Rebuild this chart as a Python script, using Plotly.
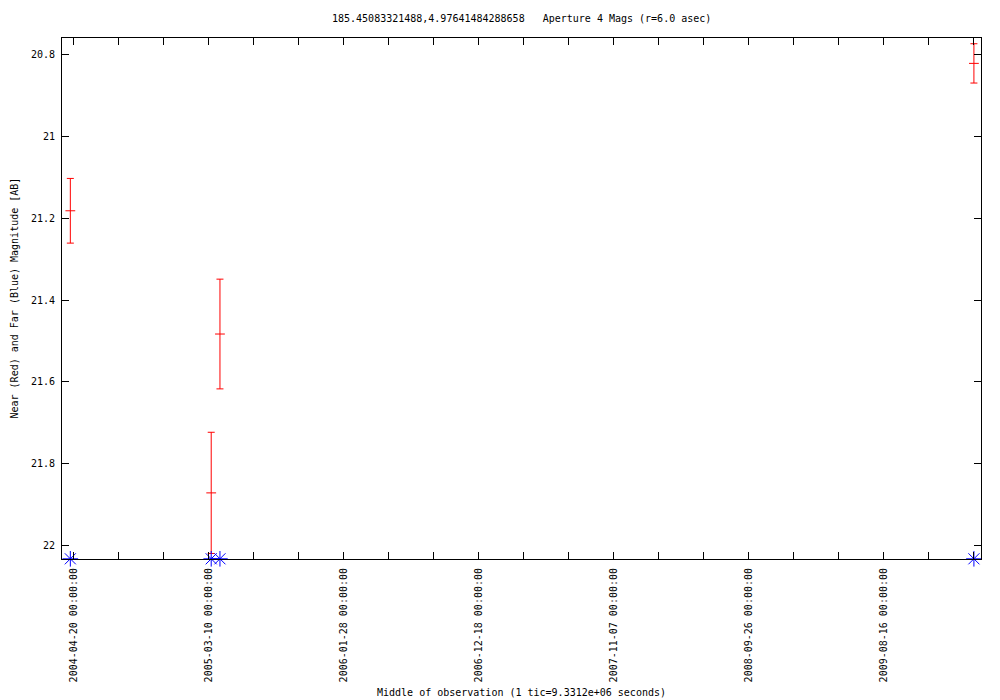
import plotly.graph_objects as go
import pandas as pd

# ---- data ----
near_dates = ["2004-04-13", "2005-04-07", "2005-03-17", "2010-03-21"]
near_mag = [21.182, 21.483, 21.871, 20.822]
near_err = [0.079, 0.134, 0.148, 0.048]

far_dates = ["2004-04-13", "2005-03-17", "2005-04-07", "2010-03-21"]
far_mag = [22.032, 22.032, 22.032, 22.032]

tick_labels = ["2004-04-20 00:00:00", "2005-03-10 00:00:00", "2006-01-28 00:00:00",
               "2006-12-18 00:00:00", "2007-11-07 00:00:00", "2008-09-26 00:00:00",
               "2009-08-16 00:00:00"]
y_ticks = [20.8, 21, 21.2, 21.4, 21.6, 21.8, 22]

title_text = "185.45083321488,4.97641484288658\u00a0\u00a0\u00a0Aperture 4 Mags (r=6.0 asec)"
x_title = "Middle of observation (1 tic=9.3312e+06 seconds)"
y_title = "Near (Red) and Far (Blue) Magnitude [AB]"

x_range = ["2004-03-24", "2010-04-07"]
y_range = [22.0325, 20.760]

# minor tics every 9.3312e6 s (108 days), labelled every third
tick_dates = pd.date_range("2004-04-20", x_range[1], freq="108D")
tick_text = [tick_labels[i // 3] if (i % 3 == 0 and i // 3 < len(tick_labels)) else ""
             for i in range(len(tick_dates))]

FONT = "DejaVu Sans Mono"

fig = go.Figure()
fig.add_trace(go.Scatter(
    x=near_dates, y=near_mag, mode="markers",
    marker=dict(symbol="line-ew", size=7, color="red", line=dict(color="red", width=1)),
    error_y=dict(type="data", array=near_err, visible=True, color="red",
                 thickness=1, width=3.5),
    showlegend=False, cliponaxis=True,
))
fig.add_trace(go.Scatter(
    x=far_dates, y=far_mag, mode="markers",
    marker=dict(symbol="asterisk-open", size=13, color="blue",
                line=dict(color="blue", width=1)),
    showlegend=False, cliponaxis=False,
))

fig.update_layout(
    width=1000, height=700,
    margin=dict(l=62, r=19, t=38, b=141),
    paper_bgcolor="white", plot_bgcolor="white",
    font=dict(family=FONT, size=10, color="black"),
    xaxis=dict(
        type="date", range=x_range, automargin=False,
        tickmode="array", tickvals=tick_dates, ticktext=tick_text,
        tickangle=-90, ticks="inside", ticklen=7, tickwidth=1, tickcolor="black",
        showline=True, linecolor="black", linewidth=1, mirror="allticks",
        showgrid=False, zeroline=False, ticklabelstandoff=4,
        tickfont=dict(family=FONT, size=10, color="black"),
    ),
    yaxis=dict(
        range=y_range, automargin=False,
        tickmode="array", tickvals=y_ticks, ticktext=[f"{v:g}" for v in y_ticks],
        ticks="inside", ticklen=7, tickwidth=1, tickcolor="black",
        showline=True, linecolor="black", linewidth=1, mirror="allticks",
        showgrid=False, zeroline=False, ticklabelstandoff=4,
        tickfont=dict(family=FONT, size=10, color="black"),
    ),
    annotations=[
        dict(text=title_text, xref="paper", yref="paper", x=0.5, y=1,
             yshift=20, xanchor="center", yanchor="middle", showarrow=False,
             font=dict(family=FONT, size=10, color="black")),
        dict(text=x_title, xref="paper", yref="paper", x=0.5, y=0,
             yshift=-133, xanchor="center", yanchor="middle", showarrow=False,
             font=dict(family=FONT, size=10, color="black")),
        dict(text=y_title, xref="paper", yref="paper", x=0, y=0.5,
             xshift=-48, xanchor="center", yanchor="middle", textangle=-90,
             showarrow=False, font=dict(family=FONT, size=10, color="black")),
    ],
)

fig.write_html("out.html", config={"displayModeBar": False},
               post_script="document.body.style.margin='0';document.body.style.overflow='hidden';")
